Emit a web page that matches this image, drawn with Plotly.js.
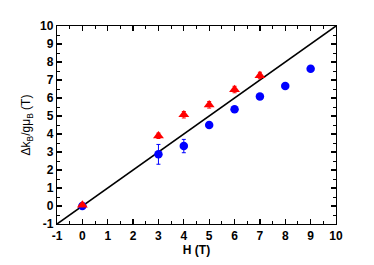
<!DOCTYPE html>
<html><head><meta charset="utf-8">
<script src="https://cdn.plot.ly/plotly-3.0.1.min.js"></script>
<style>html,body{margin:0;padding:0;background:#fff}</style>
</head><body><div id="c" style="width:374px;height:265px"></div>
<script>
const fieldBlue = [0, 3, 4, 5, 6, 7, 8, 9];
const splitBlue = [0, 2.87, 3.33, 4.5, 5.37, 6.08, 6.67, 7.62];
const errBlue = [0.05, 0.55, 0.37, 0.08, 0.08, 0.08, 0.08, 0.08];
const fieldRed = [0, 3, 4, 5, 6, 7];
const splitRed = [0.05, 3.9, 5.07, 5.62, 6.47, 7.25];
const errRed = [0.08, 0.15, 0.18, 0.18, 0.18, 0.18];
const lineX = [-1, 10];
const lineY = [-1, 10];
const ticks = [-1,0,1,2,3,4,5,6,7,8,9,10];

const fam = 'Liberation Sans, Arial, sans-serif';
const axisCommon = {
  range:[-1,10], tickvals:ticks, ticktext:ticks.map(t => '<b>' + t + '</b>'),
  ticks:'inside', ticklen:5, tickwidth:1.2, tickcolor:'#000',
  showline:true, linecolor:'#000', linewidth:1.2, mirror:'allticks',
  showgrid:false, zeroline:false,
  tickfont:{family:fam, size:12, color:'#000'},
  minor:{dtick:0.5, ticks:'inside', ticklen:3, tickwidth:1, tickcolor:'#000', showgrid:false}
};
const data = [
  {x:lineX, y:lineY, mode:'lines', line:{color:'#000', width:1.6}, hoverinfo:'skip'},
  {x:fieldBlue, y:splitBlue, mode:'markers', marker:{symbol:'circle', size:8.5, color:'#0000ff'},
   error_y:{type:'data', array:errBlue, color:'#0000ff', thickness:1, width:2}},
  {x:fieldRed, y:splitRed, mode:'markers', marker:{symbol:'triangle-up', size:9.5, color:'#ff0000'},
   error_y:{type:'data', array:errRed, color:'#ff0000', thickness:1, width:2}}
];
const layout = {
  width:374, height:265, showlegend:false,
  margin:{l:57, r:38, t:26, b:41},
  paper_bgcolor:'#fff', plot_bgcolor:'#fff', font:{family:fam, size:12, color:'#000'},
  xaxis:Object.assign({}, axisCommon, {title:{text:'<b>H (T)</b>', font:{family:fam,size:12,color:'#000'}, standoff:1}}),
  yaxis:Object.assign({}, axisCommon, {title:{text:'Δk<sub>B</sub>/gμ<sub>B</sub> (T)', font:{family:fam,size:12,color:'#000'}, standoff:6}})
};
Plotly.newPlot('c', data, layout, {staticPlot:true, displayModeBar:false});
</script></body></html>
